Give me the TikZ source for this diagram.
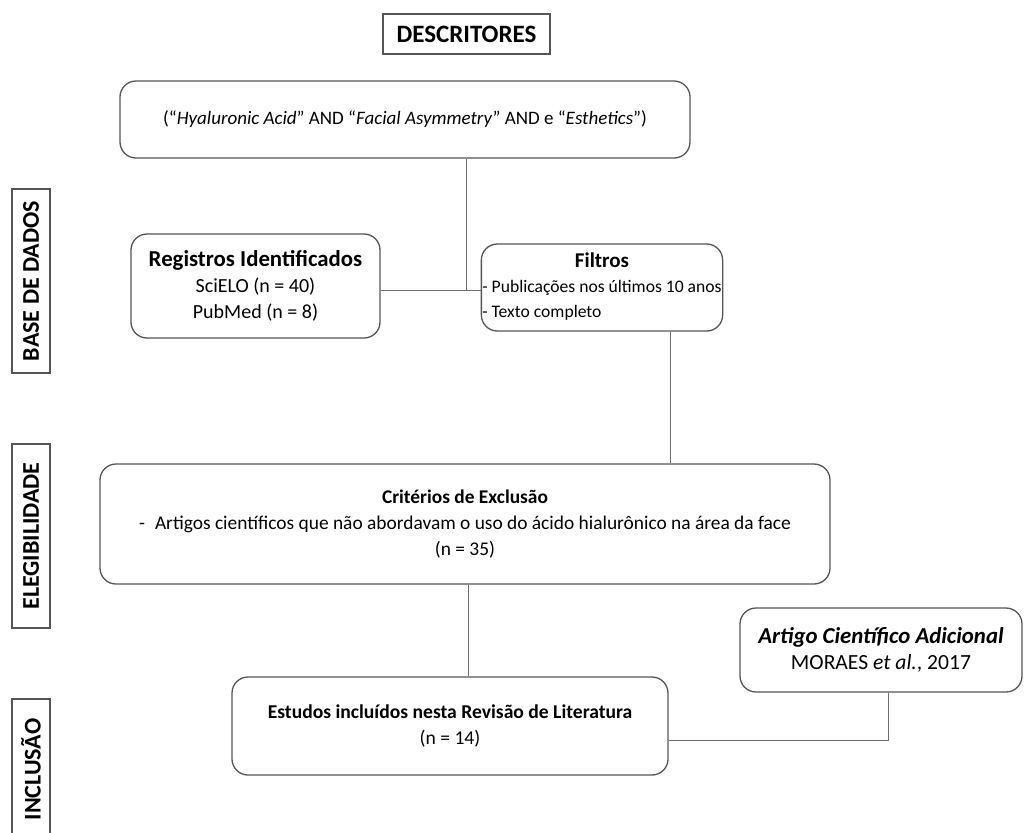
\documentclass[tikz,border=0pt]{standalone}
\usepackage{fontspec}
\setmainfont{Carlito}
\usetikzlibrary{positioning, calc}
\definecolor{boxline}{HTML}{555555}
\definecolor{linkline}{HTML}{6E6E6E}
\tikzset{
    box/.style={draw=boxline, line width=0.65pt, rounded corners=8pt, align=center, inner sep=1pt},
    sidebox/.style={draw=boxline, line width=0.65pt, rotate=90, font=\fontsize{12}{14}\selectfont\bfseries, inner sep=1pt},
    titlebox/.style={draw=boxline, line width=0.65pt, font=\fontsize{12.5}{14}\selectfont\bfseries, inner sep=1pt},
    link/.style={draw=linkline, line width=0.5pt}
}

\begin{document}
\begin{tikzpicture}[x=0.5pt, y=-0.5pt, font=\fontsize{10}{13}\selectfont]
    \clip (0,0) rectangle (1024,832);
    % side labels
    \node[sidebox, minimum width=92pt, minimum height=19pt] (sbase) at (31,281) {BASE DE DADOS};
    \node[sidebox, minimum width=92pt, minimum height=19pt] (seleg) at (31,536) {ELEGIBILIDADE};
    \node[sidebox, minimum width=70.5pt, minimum height=19pt] (sincl) at (31,769.5) {INCLUSÃO};
    % boxes
    \node[titlebox, minimum width=83.5pt, minimum height=20pt] (descr) at (466.5,34) {DESCRITORES};
    \node[box, minimum width=285pt, minimum height=38.5pt, font=\fontsize{9.5}{12}\selectfont] (query) at (405,119.5)
        {(“\textit{Hyaluronic Acid}” AND “\textit{Facial Asymmetry}” AND e “\textit{Esthetics}”)};
    \node[box, minimum width=124.5pt, minimum height=52pt] (reg) at (255.5,286)
        {{\fontsize{11.4}{13}\selectfont\bfseries Registros Identificados}\\ SciELO (n = 40)\\ PubMed (n = 8)};
    \node[box, minimum width=115pt, minimum height=43.5pt, inner sep=0.5pt, font=\fontsize{8.8}{12.5}\selectfont] (filt) at (602,287.5)
        {\begin{tabular}{@{}l@{}}\multicolumn{1}{c}{\fontsize{10.5}{12.5}\selectfont\bfseries Filtros}\\ - Publicações nos últimos 10 anos\\ - Texto completo\end{tabular}};
    \node[box, minimum width=365pt, minimum height=60pt, font=\fontsize{9.7}{13}\selectfont] (excl) at (465,524)
        {\textbf{Critérios de Exclusão}\\ -\hspace{5pt}Artigos científicos que não abordavam o uso do ácido hialurônico na área da face\\ (n = 35)};
    \node[box, minimum width=141pt, minimum height=42pt, font=\fontsize{10.8}{13}\selectfont] (extra) at (881,650)
        {{\fontsize{11.4}{13}\selectfont\bfseries\itshape Artigo Científico Adicional}\\ MORAES \textit{et al.}, 2017};
    \node[box, minimum width=218pt, minimum height=49pt, font=\fontsize{9.8}{13}\selectfont] (incl) at (450,726)
        {\textbf{Estudos incluídos nesta Revisão de Literatura}\\ (n = 14)};
    % connectors
    \coordinate (j1) at (466,290);
    \coordinate (j2) at (670,400);
    \coordinate (j3) at (468,630);
    \coordinate (j4) at (888,740);
    \draw[link] (query.south -| j1) -- (j1);
    \draw[link] (reg.east |- j1) -- (filt.west |- j1);
    \draw[link] (filt.south -| j2) -- (excl.north -| j2);
    \draw[link] (excl.south -| j3) -- (incl.north -| j3);
    \draw[link] (extra.south -| j4) -- (j4) -- (incl.east |- j4);
\end{tikzpicture}
\end{document}
